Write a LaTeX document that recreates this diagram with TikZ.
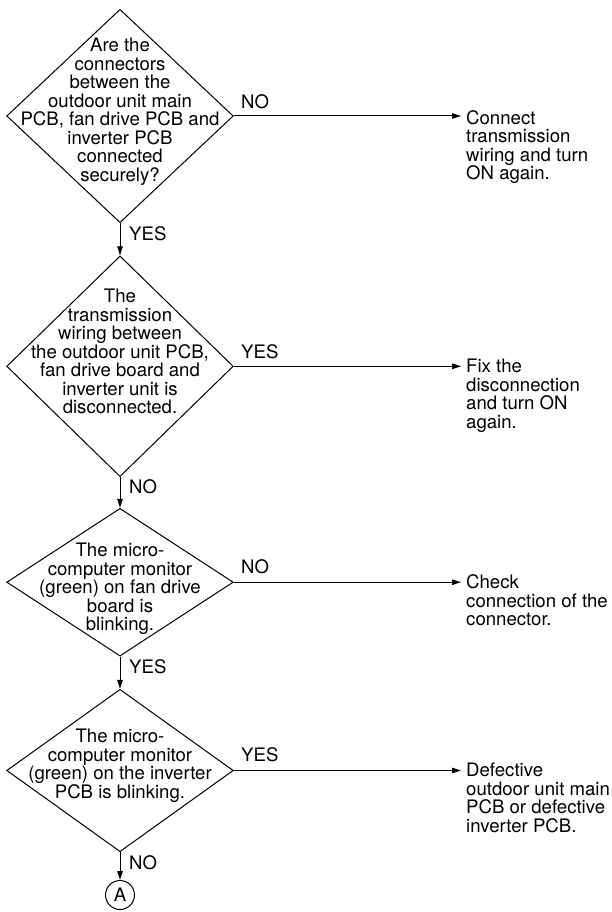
\documentclass[tikz,border=0pt]{standalone}
\usepackage{fontspec}
\setmainfont{TeX Gyre Heros}
\usetikzlibrary{shapes.geometric,arrows.meta}
\begin{document}
\begin{tikzpicture}[x=1pt,y=-1pt,
  every node/.style={font=\fontsize{18.6}{18.5}\selectfont},
  dia/.style={draw, shape=diamond, inner sep=0pt, line width=1pt, minimum width=226.6pt},
  qtext/.style={align=center, anchor=north, inner sep=0pt, execute at begin node=\strut},
  atext/.style={align=left, anchor=north west, inner sep=0pt, execute at begin node=\strut},
  lbl/.style={anchor=west, inner sep=0pt},
  conn/.style={line width=1pt, -{Triangle[length=9pt,width=5.5pt]}},
  hconn/.style={conn, shorten >=5pt},
]
\useasboundingbox (0,0) rectangle (612,912);

% decision diamonds
\node[dia, minimum height=213.4pt] (d1) at (120,116) {};
\node[dia, minimum height=220.7pt] (d2) at (120,366.3) {};
\node[dia, minimum height=147.7pt] (d3) at (120,582.2) {};
\node[dia, minimum height=162.4pt] (d4) at (120,770.5) {};
\node[draw, circle, line width=1pt, inner sep=0pt, minimum size=29pt] (A) at (120,895) {A};

% diamond texts
\node[qtext] (t1) at (120,38.1) {Are the\\connectors\\between the\\outdoor unit main\\PCB, fan drive PCB and\\inverter PCB\\connected\\securely?};
\node[qtext] (t2) at (120,289) {The\\transmission\\wiring between\\the outdoor unit PCB,\\fan drive board and\\inverter unit is\\disconnected.};
\node[qtext] (t3) at (120,542.8) {The micro-\\computer monitor\\(green) on fan drive\\board is\\blinking.};
\node[qtext] (t4) at (120,728.8) {The micro-\\computer monitor\\(green) on the inverter\\PCB is blinking.};

% action texts
\node[atext] (r1) at (466,110) {Connect\\transmission\\wiring and turn\\ON again.};
\node[atext] (r2) at (466,359) {Fix the\\disconnection\\and turn ON\\again.};
\node[atext] (r3) at (466,574.5) {Check\\connection of the\\connector.};
\node[atext] (r4) at (466,763) {Defective\\outdoor unit main\\PCB or defective\\inverter PCB.};

% connectors
\draw[conn] (d1.south) -- (d2.north);
\draw[conn] (d2.south) -- (d3.north);
\draw[conn] (d3.south) -- (d4.north);
\draw[conn] (d4.south) -- (A.north);
\draw[hconn] (d1.east) -- (d1.east -| r1.west);
\draw[hconn] (d2.east) -- (d2.east -| r2.west);
\draw[hconn] (d3.east) -- (d3.east -| r3.west);
\draw[hconn] (d4.east) -- (d4.east -| r4.west);

% labels
\node[lbl] (l1) at (129,234) {YES};
\node[lbl] (l2) at (129,487) {NO};
\node[lbl] (l3) at (129,667) {YES};
\node[lbl] (l4) at (129,863) {NO};
\node[lbl] (h1) at (241,102) {NO};
\node[lbl] (h2) at (241,351.5) {YES};
\node[lbl] (h3) at (241,567) {NO};
\node[lbl] (h4) at (241,755) {YES};
\end{tikzpicture}
\end{document}
